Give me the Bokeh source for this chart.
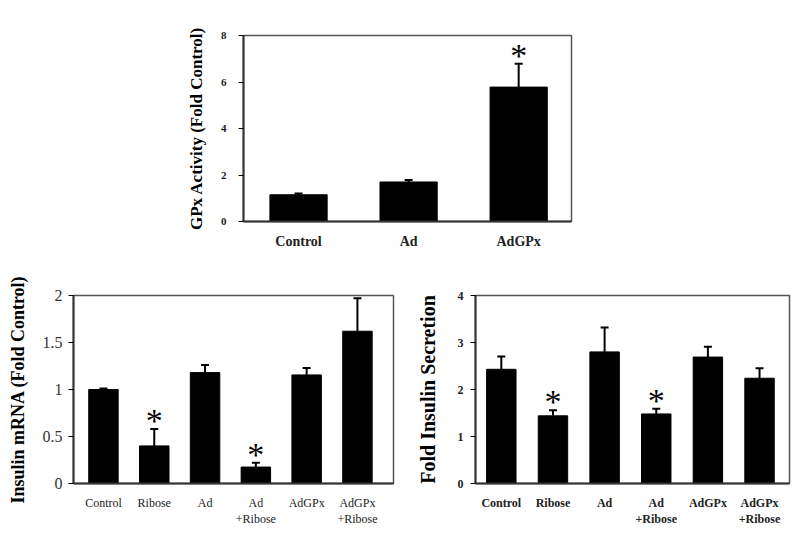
from bokeh.plotting import figure
from bokeh.layouts import column, row
from bokeh.models import Spacer, FixedTicker, Range1d, ColumnDataSource, Whisker, TeeHead
from bokeh.core.properties import value
from bokeh.embed import file_html
from bokeh.resources import INLINE

# ---- data ----
gpx_cats = ["Control", "Ad", "AdGPx"]
gpx_vals = [1.15, 1.7, 5.78]
gpx_err = [0.05, 0.08, 1.0]
gpx_star = [False, False, True]

cats6 = ["Control", "Ribose", "Ad", "Ad\n+Ribose", "AdGPx", "AdGPx\n+Ribose"]
mrna_vals = [1.0, 0.40, 1.18, 0.175, 1.155, 1.62]
mrna_err = [0.01, 0.18, 0.08, 0.045, 0.075, 0.35]
mrna_star = [False, True, False, True, False, False]

sec_vals = [2.43, 1.44, 2.80, 1.48, 2.69, 2.24]
sec_err = [0.27, 0.12, 0.52, 0.11, 0.22, 0.21]
sec_star = [False, True, False, True, False, False]

FONT = "Liberation Serif"


def make(cats, vals, errs, stars, xr, yr, yticks, ylabel, w, h, bl, br, bt, bb,
         tick_font, tick_bold, tick_color, tick_standoff, label_font, label_standoff,
         x_font, x_bold, bar_w, star_size, tick_fmt=None):
    p = figure(width=w, height=h, output_backend="svg", toolbar_location=None,
               x_range=Range1d(*xr), y_range=Range1d(*yr),
               min_border_left=bl, min_border_right=br, min_border_top=bt,
               min_border_bottom=bb)
    n = len(cats)
    xs = list(range(n))
    tops = [v + e for v, e in zip(vals, errs)]
    src = ColumnDataSource(dict(x=xs, top=vals, upper=tops, base=vals))
    p.vbar(x="x", top="top", bottom=0, width=bar_w, source=src,
           fill_color="black", line_color="black")
    wk = Whisker(base="x", upper="upper", lower="base", source=src,
                 dimension="height", line_color="black", line_width=2,
                 upper_head=TeeHead(size=8, line_color="black", line_width=2),
                 lower_head=None)
    p.add_layout(wk)
    sx = [x for x, s in zip(xs, stars) if s]
    sy = [t for t, s in zip(tops, stars) if s]
    p.text(x=sx, y=sy, text=["*"] * len(sx), text_align="center",
           text_baseline="bottom", text_font=value(FONT),
           text_font_size=star_size, y_offset=10, text_color="black")
    p.grid.visible = False
    p.outline_line_color = "#555555"
    p.outline_line_width = 1.5
    # y axis
    p.yaxis.ticker = FixedTicker(ticks=yticks)
    if tick_fmt:
        p.yaxis.major_label_overrides = {t: l for t, l in zip(yticks, tick_fmt)}
    p.yaxis.axis_line_color = "#333333"
    p.yaxis.axis_line_width = 2
    p.yaxis.major_tick_out = 5
    p.yaxis.major_tick_in = 0
    p.yaxis.minor_tick_line_color = None
    p.yaxis.major_label_standoff = tick_standoff
    p.yaxis.major_label_text_font = FONT
    p.yaxis.major_label_text_font_size = tick_font
    p.yaxis.major_label_text_font_style = "bold" if tick_bold else "normal"
    p.yaxis.major_label_text_color = tick_color
    p.yaxis.axis_label = ylabel
    p.yaxis.axis_label_text_font = FONT
    p.yaxis.axis_label_text_font_style = "bold"
    p.yaxis.axis_label_text_font_size = label_font
    p.yaxis.axis_label_text_color = "black"
    p.yaxis.axis_label_standoff = label_standoff
    # x axis
    p.xaxis.ticker = FixedTicker(ticks=xs)
    p.xaxis.major_label_overrides = {i: c for i, c in enumerate(cats)}
    p.xaxis.major_tick_line_color = None
    p.xaxis.minor_tick_line_color = None
    p.xaxis.axis_line_color = "#333333"
    p.xaxis.axis_line_width = 2
    p.xaxis.major_label_text_font = FONT
    p.xaxis.major_label_text_font_style = "bold" if x_bold else "normal"
    p.xaxis.major_label_text_font_size = x_font
    p.xaxis.major_label_text_color = "#222222"
    p.xaxis.major_label_standoff = 6
    return p


top = make(gpx_cats, gpx_vals, gpx_err, gpx_star, (-0.5, 2.48), (0, 8),
           [0, 2, 4, 6, 8], "GPx Activity (Fold Control)",
           w=85 + 328 + 10, h=27 + 186 + 40, bl=85, br=10, bt=27, bb=40,
           tick_font="11px", tick_bold=True, tick_color="#222222", tick_standoff=12,
           label_font="17px", label_standoff=12,
           x_font="14px", x_bold=True, bar_w=0.52, star_size="34px")

left = make(cats6, mrna_vals, mrna_err, mrna_star, (-0.59, 5.71), (0, 2),
            [0, 0.5, 1, 1.5, 2], "Insulin mRNA (Fold Control)",
            w=73 + 320 + 10, h=268, bl=73, br=10, bt=32, bb=38,
            tick_font="16px", tick_bold=False, tick_color="#333333", tick_standoff=6,
            label_font="18px", label_standoff=12,
            x_font="12px", x_bold=False, bar_w=0.58, star_size="34px",
            tick_fmt=["0", "0.5", "1", "1.5", "2"])

right = make(cats6, sec_vals, sec_err, sec_star, (-0.5, 5.58), (0, 4),
             [0, 1, 2, 3, 4], "Fold Insulin Secretion",
             w=60 + 316 + 3, h=268, bl=60, br=3, bt=34, bb=39,
             tick_font="12px", tick_bold=True, tick_color="#222222", tick_standoff=7,
             label_font="20px", label_standoff=16,
             x_font="12px", x_bold=True, bar_w=0.57, star_size="34px")

layout = column(Spacer(width=10, height=8),
                row(Spacer(width=158, height=10), top),
                row(left, Spacer(width=10, height=10), right))

open("out.html", "w").write(file_html(layout, INLINE))
